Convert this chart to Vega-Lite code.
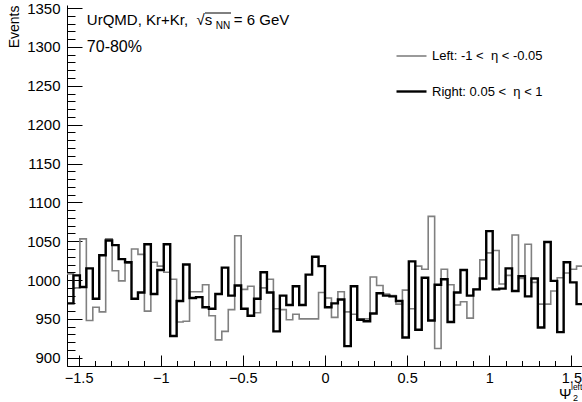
{
  "$schema": "https://vega.github.io/schema/vega-lite/v6.json",
  "width": 516,
  "height": 361,
  "autosize": {"type": "none"},
  "padding": {"left": 67, "top": 5, "right": 0, "bottom": 36},
  "background": "white",
  "config": {
    "view": {"stroke": null},
    "font": "Liberation Sans",
    "axis": {"domainColor": "black", "domainWidth": 1, "tickColor": "black", "tickWidth": 1, "grid": false, "labelColor": "black", "labelFont": "Liberation Sans", "labelFontSize": 15, "labelOverlap": false, "labelBound": false, "labelFlush": false, "titleFont": "Liberation Sans", "titleFontWeight": "normal", "titleColor": "black"}
  },
  "datasets": {
    "h": [
      {"x": -1.5708, "L": 1008, "R": 970},
      {"x": -1.5315, "L": 990, "R": 1006},
      {"x": -1.4923, "L": 1053, "R": 991},
      {"x": -1.4530, "L": 948, "R": 1015},
      {"x": -1.4137, "L": 965, "R": 976},
      {"x": -1.3744, "L": 959, "R": 1032},
      {"x": -1.3352, "L": 1053, "R": 1051},
      {"x": -1.2959, "L": 1012, "R": 1045},
      {"x": -1.2566, "L": 999, "R": 1027},
      {"x": -1.2174, "L": 1022, "R": 1023},
      {"x": -1.1781, "L": 1040, "R": 976},
      {"x": -1.1388, "L": 1033, "R": 984},
      {"x": -1.0996, "L": 960, "R": 1046},
      {"x": -1.0603, "L": 1023, "R": 982},
      {"x": -1.0210, "L": 1018, "R": 1013},
      {"x": -0.9817, "L": 1010, "R": 1046},
      {"x": -0.9425, "L": 1001, "R": 928},
      {"x": -0.9032, "L": 946, "R": 973},
      {"x": -0.8639, "L": 947, "R": 1020},
      {"x": -0.8247, "L": 985, "R": 977},
      {"x": -0.7854, "L": 985, "R": 978},
      {"x": -0.7461, "L": 994, "R": 965},
      {"x": -0.7069, "L": 954, "R": 963},
      {"x": -0.6676, "L": 923, "R": 982},
      {"x": -0.6283, "L": 934, "R": 1016},
      {"x": -0.5890, "L": 962, "R": 980},
      {"x": -0.5498, "L": 1057, "R": 993},
      {"x": -0.5105, "L": 988, "R": 963},
      {"x": -0.4712, "L": 992, "R": 954},
      {"x": -0.4320, "L": 958, "R": 976},
      {"x": -0.3927, "L": 990, "R": 1010},
      {"x": -0.3534, "L": 1001, "R": 984},
      {"x": -0.3142, "L": 963, "R": 934},
      {"x": -0.2749, "L": 962, "R": 980},
      {"x": -0.2356, "L": 949, "R": 968},
      {"x": -0.1963, "L": 956, "R": 992},
      {"x": -0.1571, "L": 950, "R": 968},
      {"x": -0.1178, "L": 950, "R": 1007},
      {"x": -0.0785, "L": 950, "R": 1030},
      {"x": -0.0393, "L": 984, "R": 1018},
      {"x": 0, "L": 977, "R": 965},
      {"x": 0.0393, "L": 952, "R": 970},
      {"x": 0.0785, "L": 985, "R": 975},
      {"x": 0.1178, "L": 959, "R": 915},
      {"x": 0.1571, "L": 956, "R": 992},
      {"x": 0.1963, "L": 950, "R": 949},
      {"x": 0.2356, "L": 950, "R": 947},
      {"x": 0.2749, "L": 1004, "R": 957},
      {"x": 0.3142, "L": 993, "R": 983},
      {"x": 0.3534, "L": 982, "R": 980},
      {"x": 0.3927, "L": 980, "R": 979},
      {"x": 0.4320, "L": 969, "R": 973},
      {"x": 0.4712, "L": 987, "R": 926},
      {"x": 0.5105, "L": 963, "R": 1024},
      {"x": 0.5498, "L": 1018, "R": 936},
      {"x": 0.5890, "L": 1014, "R": 1003},
      {"x": 0.6283, "L": 1082, "R": 948},
      {"x": 0.6676, "L": 912, "R": 994},
      {"x": 0.7069, "L": 1014, "R": 1001},
      {"x": 0.7461, "L": 994, "R": 946},
      {"x": 0.7854, "L": 968, "R": 984},
      {"x": 0.8247, "L": 972, "R": 1013},
      {"x": 0.8639, "L": 951, "R": 980},
      {"x": 0.9032, "L": 988, "R": 988},
      {"x": 0.9425, "L": 1026, "R": 1002},
      {"x": 0.9817, "L": 1035, "R": 1063},
      {"x": 1.0210, "L": 1038, "R": 988},
      {"x": 1.0603, "L": 995, "R": 989},
      {"x": 1.0996, "L": 1006, "R": 1015},
      {"x": 1.1388, "L": 1058, "R": 986},
      {"x": 1.1781, "L": 1002, "R": 1005},
      {"x": 1.2174, "L": 1046, "R": 979},
      {"x": 1.2566, "L": 997, "R": 1002},
      {"x": 1.2959, "L": 969, "R": 939},
      {"x": 1.3352, "L": 969, "R": 1049},
      {"x": 1.3744, "L": 986, "R": 999},
      {"x": 1.4137, "L": 1003, "R": 933},
      {"x": 1.4530, "L": 1009, "R": 1023},
      {"x": 1.4923, "L": 1014, "R": 997},
      {"x": 1.5315, "L": 1018, "R": 969},
      {"x": 1.5708, "L": 1018, "R": 969}
    ]
  },
  "layer": [
    {
      "data": {"name": "h"},
      "transform": [{"fold": ["L", "R"], "as": ["s", "v"]}],
      "mark": {"type": "line", "interpolate": "step-after", "clip": true},
      "encoding": {
        "x": {
          "field": "x", "type": "quantitative",
          "scale": {"domain": [-1.5708, 1.5708], "nice": false, "zero": false},
          "axis": {
            "values": [-1.5, -1.4, -1.3, -1.2, -1.1, -1.0, -0.9, -0.8, -0.7, -0.6, -0.5, -0.4, -0.3, -0.2, -0.1, 0, 0.1, 0.2, 0.3, 0.4, 0.5, 0.6, 0.7, 0.8, 0.9, 1.0, 1.1, 1.2, 1.3, 1.4, 1.5],
            "tickCount": 200,
            "labelExpr": "abs(datum.value*2 - round(datum.value*2)) < 0.001 ? format(datum.value, '~g') : ''",
            "tickSize": -11,
            "tickDash": {"condition": {"test": "abs(datum.value*2 - round(datum.value*2)) < 0.001", "value": [20, 0]}, "value": [5.5, 20]},
            "labelPadding": 16,
            "labelFontSize": 14.5,
            "title": "Ψ",
            "titleFontSize": 15,
            "titleAnchor": "end",
            "titleAlign": "right",
            "titleBaseline": "alphabetic",
            "titleX": 504,
            "titleY": 32
          }
        },
        "y": {
          "field": "v", "type": "quantitative",
          "scale": {"domain": [889.4, 1354], "nice": false, "zero": false},
          "axis": {
            "values": [890, 900, 910, 920, 930, 940, 950, 960, 970, 980, 990, 1000, 1010, 1020, 1030, 1040, 1050, 1060, 1070, 1080, 1090, 1100, 1110, 1120, 1130, 1140, 1150, 1160, 1170, 1180, 1190, 1200, 1210, 1220, 1230, 1240, 1250, 1260, 1270, 1280, 1290, 1300, 1310, 1320, 1330, 1340, 1350],
            "tickCount": 200,
            "labelExpr": "datum.value % 50 == 0 ? format(datum.value, 'd') : ''",
            "tickSize": -15,
            "tickDash": {"condition": {"test": "datum.value % 50 == 0", "value": [30, 0]}, "value": [8, 30]},
            "labelPadding": 22,
            "title": "Events",
            "titleFontSize": 14,
            "titleAngle": 270,
            "titleAnchor": "end",
            "titleAlign": "right",
            "titleBaseline": "middle",
            "titleX": -53,
            "titleY": 0
          }
        },
        "color": {
          "field": "s", "type": "nominal",
          "scale": {"domain": ["L", "R"], "range": ["#808080", "#000000"]},
          "legend": {
            "orient": "none", "legendX": 328, "legendY": 35, "title": null,
            "symbolType": "stroke", "symbolSize": 900, "labelFontSize": 13, "labelFont": "Liberation Sans", "labelColor": "black",
            "rowPadding": 12, "labelOffset": 4, "padding": 0,
            "labelExpr": "datum.value == 'L' ? 'Left: -1 <\u00a0\u00a0η < -0.05' : 'Right: 0.05 <\u00a0\u00a0η < 1'"
          }
        },
        "strokeWidth": {
          "field": "s", "type": "nominal",
          "scale": {"domain": ["L", "R"], "range": [1.6, 2.4]},
          "legend": {
            "orient": "none", "legendX": 328, "legendY": 35, "title": null,
            "symbolType": "stroke", "symbolSize": 900, "labelFontSize": 13, "labelFont": "Liberation Sans", "labelColor": "black",
            "rowPadding": 12, "labelOffset": 4, "padding": 0,
            "labelExpr": "datum.value == 'L' ? 'Left: -1 <\u00a0\u00a0η < -0.05' : 'Right: 0.05 <\u00a0\u00a0η < 1'"
          }
        }
      }
    },
    {
      "data": {"values": [{}]},
      "mark": {"type": "text", "align": "left", "baseline": "alphabetic", "fontSize": 15, "font": "Liberation Sans", "color": "black"},
      "encoding": {"x": {"datum": -1.45}, "y": {"datum": 1327.7}, "text": {"value": "UrQMD, Kr+Kr,\u00a0\u00a0√s"}}
    },
    {
      "data": {"values": [{}]},
      "mark": {"type": "text", "align": "left", "baseline": "alphabetic", "fontSize": 10, "font": "Liberation Sans", "color": "black", "dx": 129, "dy": 4},
      "encoding": {"x": {"datum": -1.45}, "y": {"datum": 1327.7}, "text": {"value": "NN"}}
    },
    {
      "data": {"values": [{}]},
      "mark": {"type": "text", "align": "left", "baseline": "alphabetic", "fontSize": 15, "font": "Liberation Sans", "color": "black", "dx": 147},
      "encoding": {"x": {"datum": -1.45}, "y": {"datum": 1327.7}, "text": {"value": "\u00a0= 6 GeV"}}
    },
    {
      "data": {"values": [{}]},
      "mark": {"type": "rule", "color": "black", "strokeWidth": 1},
      "encoding": {"x": {"datum": -0.7306}, "x2": {"datum": -0.5723}, "y": {"datum": 1343.7}}
    },
    {
      "data": {"values": [{}]},
      "mark": {"type": "text", "align": "left", "baseline": "alphabetic", "fontSize": 16, "font": "Liberation Sans", "color": "black"},
      "encoding": {"x": {"datum": -1.45}, "y": {"datum": 1293}, "text": {"value": "70-80%"}}
    },
    {
      "data": {"values": [{}]},
      "mark": {"type": "text", "align": "left", "baseline": "alphabetic", "fontSize": 8.5, "font": "Liberation Sans", "color": "black", "dx": -12, "dy": 24},
      "encoding": {"x": {"datum": 1.5708}, "y": {"datum": 889.4}, "text": {"value": "left"}}
    },
    {
      "data": {"values": [{}]},
      "mark": {"type": "text", "align": "left", "baseline": "alphabetic", "fontSize": 9, "font": "Liberation Sans", "color": "black", "dx": -10, "dy": 35},
      "encoding": {"x": {"datum": 1.5708}, "y": {"datum": 889.4}, "text": {"value": "2"}}
    }
  ]
}
